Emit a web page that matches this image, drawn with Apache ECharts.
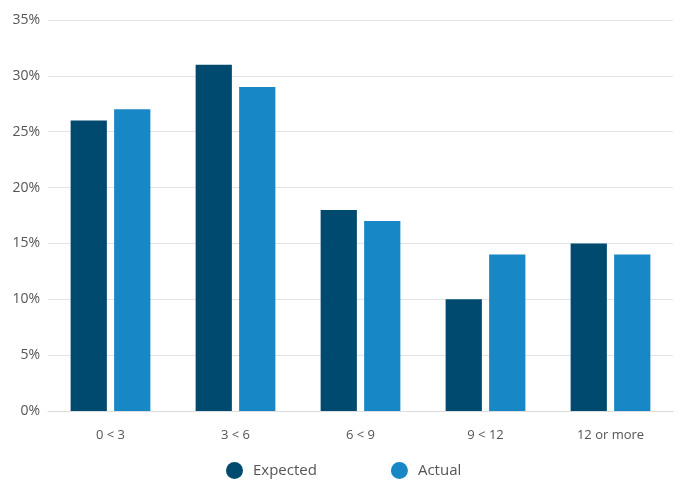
<!DOCTYPE html>
<html>
<head>
<meta charset="utf-8">
<script src="https://cdn.jsdelivr.net/npm/echarts@6/dist/echarts.min.js"></script>
<style>
  html, body { margin: 0; padding: 0; background: #fff; }
  #chart { width: 691px; height: 493px; }
</style>
</head>
<body>
<div id="chart"></div>
<script>
// data
var categories = ['0 < 3', '3 < 6', '6 < 9', '9 < 12', '12 or more'];
var expected = [26, 31, 18, 10, 15];
var actual = [27, 29, 17, 14, 14];

var chart = echarts.init(document.getElementById('chart'));
var font = '"Open Sans", "Noto Sans", sans-serif';

var option = {
  animation: false,
  grid: { left: 48, right: 18, top: 20, bottom: 82 },
  legend: {
    bottom: 9,
    left: 221,
    icon: 'circle',
    itemWidth: 17,
    itemHeight: 17,
    itemGap: 74,
    textStyle: { color: '#555', fontSize: 15, fontFamily: font, padding: [0, 0, 0, 5] },
    data: ['Expected', 'Actual']
  },
  xAxis: {
    type: 'category',
    data: categories,
    axisLine: { lineStyle: { color: '#ddd' } },
    axisTick: { show: false },
    axisLabel: { color: '#555', fontSize: 13, fontFamily: font, margin: 18 }
  },
  yAxis: {
    type: 'value',
    min: 0,
    max: 35,
    interval: 5,
    axisLabel: { formatter: '{value}%', color: '#555', fontSize: 14, fontFamily: font, margin: 8 },
    splitLine: { lineStyle: { color: '#e3e3e3' } }
  },
  series: [
    {
      name: 'Expected',
      type: 'bar',
      data: expected,
      barWidth: '29%',
      barGap: '20%',
      itemStyle: { color: '#004a6f' }
    },
    {
      name: 'Actual',
      type: 'bar',
      data: actual,
      barWidth: '29%',
      itemStyle: { color: '#1787c6' }
    }
  ]
};

chart.setOption(option);
</script>
</body>
</html>
